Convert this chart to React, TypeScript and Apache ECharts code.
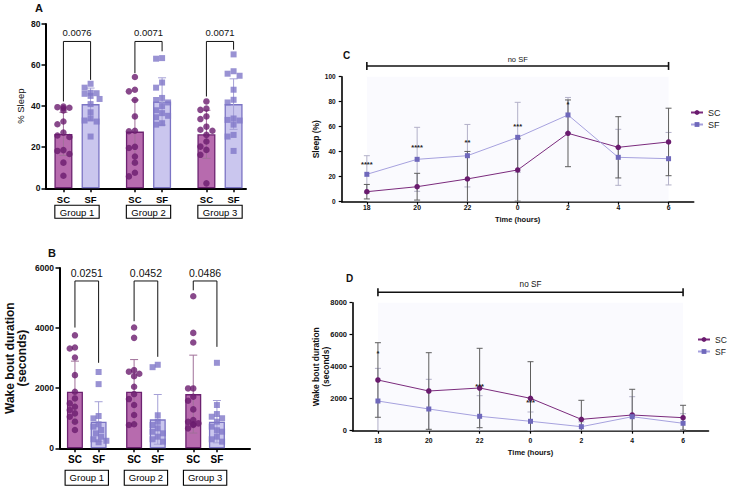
import React, { useEffect, useRef } from 'react';
import * as echarts from 'echarts';

const FONT = '"Liberation Sans", Arial, Helvetica, sans-serif';

// ---------------- Panel A : % Sleep ----------------
const groupNames = ['Group 1', 'Group 2', 'Group 3'];
const conditionNames = ['SC', 'SF'];
const sleepMeanSC = [26.5, 27.6, 26.3];
const sleepMeanSF = [41.0, 42.3, 41.0];
const sleepSdSC = [10.5, 15.4, 11.7];
const sleepSdSF = [7.8, 11.5, 12.3];
const sleepPtsSC = [
  [39.8, 39.5, 39.2, 39.0, 37.9, 32.5, 31.2, 27.1, 25.7, 25.0, 18.6, 18.2, 16.7, 12.5, 6.1],
  [54.2, 48.0, 47.2, 43.0, 35.0, 28.0, 27.8, 20.2, 19.6, 15.5, 12.5, 7.6, 5.8],
  [42.3, 38.8, 38.2, 35.0, 33.7, 30.0, 28.5, 28.0, 26.0, 22.8, 20.3, 18.7, 16.3, 2.4],
];
const sleepPtsSF = [
  [50.9, 49.0, 46.5, 46.3, 46.0, 45.0, 43.5, 41.0, 37.0, 34.0, 33.0, 32.5, 25.2],
  [63.4, 63.1, 51.5, 49.0, 44.0, 43.0, 41.8, 40.0, 38.0, 36.6, 35.3, 34.6, 31.7, 31.0],
  [65.2, 57.0, 55.8, 54.8, 48.0, 43.1, 41.8, 34.0, 33.3, 33.0, 31.0, 26.0, 25.2, 18.2],
];
const sleepPValues = ['0.0076', '0.0071', '0.0071'];
const sleepBracketLegSC = [42.3, 56.1, 44.7];
const sleepBracketLegSF = [52.8, 66.7, 67.5];
const sleepBracketTop = 71.5;
const sleepPLabelY = 76;

// ---------------- Panel B : Wake bout duration ----------------
const wakeMeanSC = [1882, 1882, 1804];
const wakeMeanSF = [886, 963, 886];
const wakeSdSC = [1018, 1070, 1296];
const wakeSdSF = [664, 827, 704];
const wakePtsSC = [
  [3760, 3354, 3321, 3022, 2435, 1882, 1660, 1494, 1383, 1273, 1162, 1050, 886, 609],
  [4018, 3675, 2600, 2550, 2480, 2400, 2048, 1804, 1638, 1439, 1107, 800, 775],
  [5059, 3841, 3520, 1993, 1993, 1716, 1583, 1295, 941, 880, 830, 800, 775, 664],
];
const wakePtsSF = [
  [2540, 2136, 1074, 996, 797, 720, 609, 498, 387, 300, 250, 200],
  [2780, 2700, 1100, 886, 775, 664, 550, 498, 387, 300, 221],
  [2845, 1440, 1140, 1051, 1000, 886, 720, 600, 553, 387, 300, 221],
];
const wakePValues = ['0.0251', '0.0452', '0.0486'];
const wakeBracketLegSC = [4018, 4229, 5258];
const wakeBracketLegSF = [2845, 3044, 3376];
const wakeBracketTop = 5568;
const wakePLabelY = 5845;

// ---------------- Panel C : Sleep (%) over time ----------------
const timeLabels = ['18', '20', '22', '0', '2', '4', '6'];
const sleepHourSC = [8.0, 12.0, 18.2, 25.4, 54.7, 43.5, 47.8];
const sleepHourSdSC = [5.8, 10.7, 22.0, 25.0, 26.7, 24.5, 27.0];
const sleepHourSF = [21.9, 33.9, 36.8, 51.5, 69.4, 35.5, 34.4];
const sleepHourSdSF = [14.9, 25.6, 25.0, 28.0, 14.0, 22.4, 21.0];
const sleepHourStars = ['****', '****', '**', '***', '*', '', ''];
const sleepHourStarY = [30, 43.5, 47.5, 60.5, 77.5, 0, 0];

// ---------------- Panel D : Wake bout duration over time ----------------
const wakeHourSC = [3169, 2481, 2669, 2025, 710, 981, 813];
const wakeHourSdSC = [2330, 2394, 2481, 2288, 1190, 1607, 775];
const wakeHourSF = [1856, 1356, 900, 588, 250, 875, 463];
const wakeHourSdSF = [2040, 1856, 1288, 581, 300, 1250, 600];
const wakeHourStars = ['*', '', '***', '***', '', '', ''];
const wakeHourStarY = [4838, 0, 2750, 1750, 0, 0, 0];

// colours
const SC_FILL = '#b76bae';
const SC_EDGE = '#6c2270';
const SC_DOT = '#6a1b6e';
const SF_FILL = '#cac6ee';
const SF_EDGE = '#7b74c4';
const SF_DOT = '#7f77c8';
const SC_ERR_AB = '#a07099';
const SF_ERR_AB = '#a5a0d6';
const SC_LINE = '#7a2a7c';
const SF_LINE = '#a6a1de';
const SF_MARK = '#6f68bb';
const ERR_SC = '#5e5e5e';
const ERR_SF = '#b2b0c8';

// horizontal spread of dots (pixel offsets), deterministic
function swarm(values: number[], pxPerY: number, diam: number): number[] {
  const order = values.map((_, i) => i).sort((a, b) => values[b] - values[a]);
  const placed: { x: number; y: number }[] = [];
  const offs = new Array(values.length).fill(0);
  const cands = [0, -3, 3, -6, 6, -9, 9];
  order.forEach((i) => {
    const y = values[i] * pxPerY;
    let chosen = 0;
    for (const c of cands) {
      if (placed.every((p) => Math.hypot(p.x - c, p.y - y) >= diam)) {
        chosen = c;
        break;
      }
    }
    placed.push({ x: chosen, y });
    offs[i] = chosen;
  });
  return offs;
}

type BarCfg = {
  xMain: number; yIdx: number;
  meanSC: number[]; meanSF: number[]; sdSC: number[]; sdSF: number[];
  ptsSC: number[][]; ptsSF: number[][];
  pLabels: string[]; legSC: number[]; legSF: number[]; top: number; labelY: number;
  half: number; pxPerX: number; pxPerY: number; barWidth: number; pFont: number;
};

function errorSeries(xAxisIndex: number, yAxisIndex: number, data: number[][], color: string, cap: number, z: number) {
  return {
    type: 'custom', xAxisIndex, yAxisIndex, z, clip: true, silent: true,
    encode: { x: 0, y: 1 },
    data,
    renderItem: (params: any, api: any) => {
      const x = api.value(0), m = api.value(1), s = api.value(2);
      const p1 = api.coord([x, m + s]);
      const p2 = api.coord([x, m - s]);
      const style = { stroke: color, lineWidth: 1 };
      return {
        type: 'group',
        children: [
          { type: 'line', shape: { x1: p1[0], y1: p1[1], x2: p2[0], y2: p2[1] }, style },
          { type: 'line', shape: { x1: p1[0] - cap, y1: p1[1], x2: p1[0] + cap, y2: p1[1] }, style },
          { type: 'line', shape: { x1: p2[0] - cap, y1: p2[1], x2: p2[0] + cap, y2: p2[1] }, style },
        ],
      };
    },
  };
}

function barPanelSeries(c: BarCfg) {
  const barData: any[] = [];
  const errSC: number[][] = [];
  const errSF: number[][] = [];
  const dotsSC: number[][] = [];
  const dotsSF: number[][] = [];
  const brackets: number[][] = [];
  groupNames.forEach((_, g) => {
    const xs = g + 1 - c.half;
    const xf = g + 1 + c.half;
    barData.push({ value: [xs, c.meanSC[g]], itemStyle: { color: SC_FILL, borderColor: SC_EDGE, borderWidth: 1.3 } });
    barData.push({ value: [xf, c.meanSF[g]], itemStyle: { color: SF_FILL, borderColor: SF_EDGE, borderWidth: 1.3 } });
    errSC.push([xs, c.meanSC[g], c.sdSC[g]]);
    errSF.push([xf, c.meanSF[g], c.sdSF[g]]);
    const oS = swarm(c.ptsSC[g], c.pxPerY, 6);
    c.ptsSC[g].forEach((v, i) => dotsSC.push([xs + oS[i] / c.pxPerX, v]));
    const oF = swarm(c.ptsSF[g], c.pxPerY, 6);
    c.ptsSF[g].forEach((v, i) => dotsSF.push([xf + oF[i] / c.pxPerX, v]));
    brackets.push([xs, xf, c.legSC[g], c.legSF[g], c.top, c.labelY]);
  });
  return [
    {
      type: 'bar', xAxisIndex: c.xMain, yAxisIndex: c.yIdx, barWidth: c.barWidth, z: 2,
      data: barData, silent: true,
    },
    errorSeries(c.xMain, c.yIdx, errSC, SC_ERR_AB, 4, 3),
    errorSeries(c.xMain, c.yIdx, errSF, SF_ERR_AB, 4, 3),
    {
      type: 'scatter', xAxisIndex: c.xMain, yAxisIndex: c.yIdx, z: 4, silent: true,
      symbol: 'circle', symbolSize: 6.5, itemStyle: { color: SC_DOT }, data: dotsSC,
    },
    {
      type: 'scatter', xAxisIndex: c.xMain, yAxisIndex: c.yIdx, z: 4, silent: true,
      symbol: 'rect', symbolSize: 6, itemStyle: { color: SF_DOT }, data: dotsSF,
    },
    {
      type: 'custom', xAxisIndex: c.xMain, yAxisIndex: c.yIdx, z: 5, clip: false, silent: true,
      encode: { x: [0, 1], y: [2, 3, 4, 5] },
      data: brackets,
      renderItem: (params: any, api: any) => {
        const xl = api.value(0), xr = api.value(1), yl = api.value(2), yr = api.value(3);
        const top = api.value(4), ty = api.value(5);
        const a = api.coord([xl, yl]), b = api.coord([xl, top]), d = api.coord([xr, top]), e = api.coord([xr, yr]);
        const t = api.coord([(xl + xr) / 2, ty]);
        return {
          type: 'group',
          children: [
            { type: 'polyline', shape: { points: [a, b, d, e] }, style: { stroke: '#111', lineWidth: 1, fill: null } },
            {
              type: 'text', x: t[0], y: t[1],
              style: { text: c.pLabels[params.dataIndex], fontSize: c.pFont, fontFamily: FONT, fill: '#111', align: 'center', verticalAlign: 'middle' },
            },
          ],
        };
      },
    },
  ];
}

function lineSeries(name: string, xi: number, yi: number, data: number[], isSC: boolean, areaMax?: number) {
  const s: any = {
    type: 'line', name, xAxisIndex: xi, yAxisIndex: yi, data, z: 5,
    symbol: isSC ? 'circle' : 'rect', symbolSize: isSC ? 5.5 : 5,
    itemStyle: { color: isSC ? SC_DOT : SF_MARK },
    lineStyle: { color: isSC ? SC_LINE : SF_LINE, width: 1 },
    silent: true,
  };
  if (areaMax !== undefined) {
    s.markArea = {
      silent: true,
      itemStyle: { color: 'rgba(246,245,253,0.55)' },
      data: [[{ xAxis: timeLabels[0], yAxis: 0 }, { xAxis: timeLabels[timeLabels.length - 1], yAxis: areaMax }]],
    };
  }
  return s;
}

function starSeries(xi: number, yi: number, stars: string[], ys: number[]) {
  return {
    type: 'custom', xAxisIndex: xi, yAxisIndex: yi, z: 6, clip: false, silent: true,
    encode: { x: 0, y: 1 },
    data: stars.map((_, i) => [i, ys[i]]),
    renderItem: (params: any, api: any) => {
      const p = api.coord([api.value(0), api.value(1)]);
      return {
        type: 'text', x: p[0], y: p[1],
        style: { text: stars[params.dataIndex], fontSize: 7.5, fontWeight: 'bold', fontFamily: FONT, fill: '#222', align: 'center', verticalAlign: 'middle' },
      };
    },
  };
}

function noSfSeries(xi: number, yi: number, lineY: number, textY: number, fontSize: number) {
  return {
    type: 'custom', xAxisIndex: xi, yAxisIndex: yi, z: 6, clip: false, silent: true,
    encode: { x: [0, 1], y: [2, 3] },
    data: [[0, timeLabels.length - 1, lineY, textY]],
    renderItem: (params: any, api: any) => {
      const a = api.coord([api.value(0), api.value(2)]);
      const b = api.coord([api.value(1), api.value(2)]);
      const t = api.coord([(api.value(0) + api.value(1)) / 2, api.value(3)]);
      const st = { stroke: '#111', lineWidth: 1.6 };
      return {
        type: 'group',
        children: [
          { type: 'line', shape: { x1: a[0], y1: a[1], x2: b[0], y2: b[1] }, style: st },
          { type: 'line', shape: { x1: a[0], y1: a[1] - 4, x2: a[0], y2: a[1] + 4 }, style: st },
          { type: 'line', shape: { x1: b[0], y1: b[1] - 4, x2: b[0], y2: b[1] + 4 }, style: st },
          { type: 'text', x: t[0], y: t[1], style: { text: 'no SF', fontSize, fontFamily: FONT, fill: '#111', align: 'center', verticalAlign: 'middle' } },
        ],
      };
    },
  };
}

const A_HALF = 0.19;
const B_HALF = 0.2;

function mainXAxis(gridIndex: number, min: number, max: number, half: number, fontSize: number, margin: number) {
  const vals: number[] = [];
  groupNames.forEach((_, g) => { vals.push(g + 1 - half, g + 1 + half); });
  return {
    type: 'value', gridIndex, min, max, position: 'bottom',
    axisLine: { show: true, onZero: false, lineStyle: { color: '#000', width: 2 } },
    axisTick: { show: true, customValues: vals, length: 4, lineStyle: { color: '#000', width: 1.5 } },
    axisLabel: {
      show: true, customValues: vals, margin, color: '#000', fontSize, fontWeight: 'bold', fontFamily: FONT,
      formatter: (v: number) => {
        let best = 0;
        vals.forEach((x, i) => { if (Math.abs(x - v) < Math.abs(vals[best] - v)) best = i; });
        return conditionNames[best % 2];
      },
    },
    splitLine: { show: false },
  };
}

function groupXAxis(gridIndex: number, min: number, max: number, margin: number, lineHeight: number, padding: number[]) {
  const vals = groupNames.map((_, g) => g + 1);
  return {
    type: 'value', gridIndex, min, max, position: 'bottom', offset: 0,
    axisLine: { show: false }, axisTick: { show: false }, splitLine: { show: false },
    axisLabel: {
      show: true, customValues: vals, margin, color: '#000', fontSize: 9.5, fontFamily: FONT,
      lineHeight, padding, borderColor: '#000', borderWidth: 1.1,
      formatter: (v: number) => groupNames[Math.round(v) - 1],
    },
  };
}

function catXAxis(gridIndex: number, margin: number, nameGap: number) {
  return {
    type: 'category', gridIndex, data: timeLabels, boundaryGap: true, position: 'bottom',
    name: 'Time (hours)', nameLocation: 'middle', nameGap, nameMoveOverlap: false,
    nameTextStyle: { color: '#111', fontSize: 7.5, fontWeight: 'bold', fontFamily: FONT },
    axisLine: { show: true, onZero: false, lineStyle: { color: '#000', width: 1.6 } },
    axisTick: { show: true, alignWithLabel: true, length: 3, lineStyle: { color: '#000', width: 1.2 } },
    axisLabel: { margin, color: '#111', fontSize: 6.8, fontWeight: 'bold', fontFamily: FONT, interval: 0 },
    splitLine: { show: false },
  };
}

function valYAxis(gridIndex: number, max: number, interval: number, name: string, nameGap: number, nameSize: number, nameBold: boolean, nameLH: number, labelSize: number, margin: number, lineW: number, tickLen: number) {
  return {
    type: 'value', gridIndex, min: 0, max, interval,
    name, nameLocation: 'middle', nameGap, nameRotate: 90, nameMoveOverlap: false,
    nameTextStyle: { color: '#111', fontSize: nameSize, fontWeight: nameBold ? 'bold' : 'normal', fontFamily: FONT, lineHeight: nameLH, align: 'center' },
    axisLine: { show: true, lineStyle: { color: '#000', width: lineW } },
    axisTick: { show: true, length: tickLen, lineStyle: { color: '#000', width: lineW * 0.75 } },
    axisLabel: {
      margin, color: '#111', fontSize: labelSize, fontWeight: 'bold', fontFamily: FONT, showMinLabel: true, showMaxLabel: true,
      formatter: (v: number) => String(v),
    },
    splitLine: { show: false },
  };
}

export default function App() {
  const ref = useRef<HTMLDivElement>(null);
  useEffect(() => {
    if (!ref.current) return;
    const chart = echarts.init(ref.current, null, { renderer: 'svg' });
    const aMin = 1 - 31 / 71.5, aMax = 1 + 169 / 71.5;
    const bMin = 1 - 31 / 68.5, bMax = 1 + 189 / 68.5;
    const option: any = {
      animation: false,
      backgroundColor: '#fff',
      textStyle: { fontFamily: FONT },
      title: [
        { text: 'A', left: 35, top: 2, padding: 0, textStyle: { fontSize: 11, fontWeight: 'bold', color: '#111', fontFamily: FONT } },
        { text: 'B', left: 48, top: 247, padding: 0, textStyle: { fontSize: 11, fontWeight: 'bold', color: '#111', fontFamily: FONT } },
        { text: 'C', left: 343, top: 50, padding: 0, textStyle: { fontSize: 10, fontWeight: 'bold', color: '#111', fontFamily: FONT } },
        { text: 'D', left: 346, top: 273, padding: 0, textStyle: { fontSize: 10, fontWeight: 'bold', color: '#111', fontFamily: FONT } },
      ],
      legend: [
        {
          data: ['SC', 'SF'], orient: 'vertical', left: 690, top: 108, itemWidth: 12, itemHeight: 6, itemGap: 3,
          padding: 0, selectedMode: false, textStyle: { fontSize: 9, color: '#222', fontFamily: FONT },
        },
        {
          data: ['SC', 'SF'], orient: 'vertical', left: 697, top: 335, itemWidth: 12, itemHeight: 6, itemGap: 3,
          padding: 0, selectedMode: false, textStyle: { fontSize: 8.5, color: '#222', fontFamily: FONT },
        },
      ],
      grid: [
        { left: 46, top: 24, width: 200, height: 164.3, outerBoundsMode: 'none', containLabel: false },
        { left: 60, top: 268, width: 190, height: 180.3, outerBoundsMode: 'none', containLabel: false },
        { left: 341.7, top: 76.7, width: 352, height: 125, outerBoundsMode: 'none', containLabel: false },
        { left: 352.5, top: 302.7, width: 356, height: 128, outerBoundsMode: 'none', containLabel: false },
      ],
      xAxis: [
        mainXAxis(0, aMin, aMax, A_HALF, 9.5, 6),
        groupXAxis(0, aMin, aMax, 17, 10, [2, 5, 1, 5]),
        mainXAxis(1, bMin, bMax, B_HALF, 10, 6.5),
        groupXAxis(1, bMin, bMax, 22, 11, [2, 4.5, 2, 4.5]),
        catXAxis(2, 2.5, 14),
        catXAxis(3, 6, 18),
      ],
      yAxis: [
        valYAxis(0, 80, 20, '% Sleep', 20, 9.5, false, 11, 8.5, 5.5, 2, 4.5),
        valYAxis(1, 6000, 2000, 'Wake bout duration\n(seconds)', 32, 12, true, 12, 8.5, 6, 2, 4.5),
        valYAxis(2, 100, 20, 'Sleep (%)', 21, 8.5, true, 10, 6.5, 6, 1.6, 3),
        valYAxis(3, 8000, 2000, 'Wake bout duration\n(seconds)', 22, 8.5, true, 10, 7.5, 5.5, 1.6, 3),
      ],
      series: [
        ...barPanelSeries({
          xMain: 0, yIdx: 0, meanSC: sleepMeanSC, meanSF: sleepMeanSF, sdSC: sleepSdSC, sdSF: sleepSdSF,
          ptsSC: sleepPtsSC, ptsSF: sleepPtsSF, pLabels: sleepPValues, legSC: sleepBracketLegSC, legSF: sleepBracketLegSF,
          top: sleepBracketTop, labelY: sleepPLabelY, half: A_HALF, pxPerX: 71.5, pxPerY: 164.3 / 80, barWidth: 18, pFont: 9.5,
        }),
        ...barPanelSeries({
          xMain: 2, yIdx: 1, meanSC: wakeMeanSC, meanSF: wakeMeanSF, sdSC: wakeSdSC, sdSF: wakeSdSF,
          ptsSC: wakePtsSC, ptsSF: wakePtsSF, pLabels: wakePValues, legSC: wakeBracketLegSC, legSF: wakeBracketLegSF,
          top: wakeBracketTop, labelY: wakePLabelY, half: B_HALF, pxPerX: 68.5, pxPerY: 180.3 / 6000, barWidth: 16, pFont: 10.5,
        }),
        // Panel C
        errorSeries(4, 2, sleepHourSF.map((v, i) => [i, v, sleepHourSdSF[i]]), ERR_SF, 3, 3),
        errorSeries(4, 2, sleepHourSC.map((v, i) => [i, v, sleepHourSdSC[i]]), ERR_SC, 3, 3),
        lineSeries('SC', 4, 2, sleepHourSC, true, 100),
        lineSeries('SF', 4, 2, sleepHourSF, false),
        starSeries(4, 2, sleepHourStars, sleepHourStarY),
        noSfSeries(4, 2, 108.6, 113.6, 7.5),
        // Panel D
        errorSeries(5, 3, wakeHourSF.map((v, i) => [i, v, wakeHourSdSF[i]]), ERR_SF, 3, 3),
        errorSeries(5, 3, wakeHourSC.map((v, i) => [i, v, wakeHourSdSC[i]]), ERR_SC, 3, 3),
        lineSeries('SC', 5, 3, wakeHourSC, true, 8000),
        lineSeries('SF', 5, 3, wakeHourSF, false),
        starSeries(5, 3, wakeHourStars, wakeHourStarY),
        noSfSeries(5, 3, 8650, 9150, 8.2),
      ],
    };
    chart.setOption(option);
    return () => chart.dispose();
  }, []);
  return <div ref={ref} style={{ position: 'fixed', left: 0, top: 0, width: 730, height: 491, background: '#fff' }} />;
}
